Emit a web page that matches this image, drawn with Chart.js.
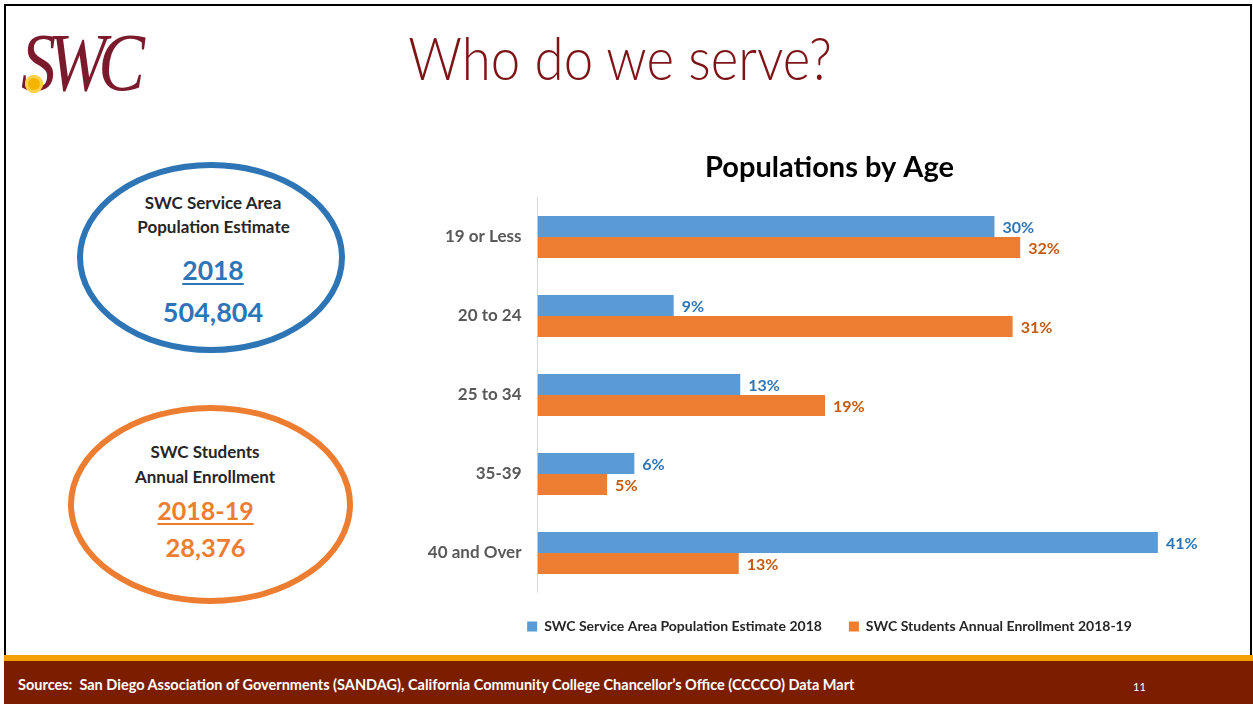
<!DOCTYPE html>
<html>
<head>
<meta charset="utf-8">
<script src="https://cdn.jsdelivr.net/npm/chart.js@4.4.1/dist/chart.umd.min.js"></script>
<style>
  html, body { margin:0; padding:0; width:1253px; height:704px; overflow:hidden; background:#fff; font-family: Lato, "Open Sans", sans-serif; }
  #frame { position:absolute; left:4px; top:4px; width:1248px; height:652px; border:2px solid #000; border-bottom:none; box-sizing:border-box; }
  #strip { position:absolute; left:4px; top:655px; width:1249px; height:6px; background:#F4A000; }
  #footer { position:absolute; left:4px; top:661px; width:1249px; height:43px; background:#7B1E00; }
  #sources { position:absolute; left:18px; top:684px; transform:translateY(-50%); color:#fff; font-weight:bold; font-size:14.5px; white-space:nowrap; }
  #pageno { position:absolute; left:1133px; top:680px; color:#fff; font-size:11px; }
  #title { position:absolute; left:620px; top:57px; transform:translate(-50%,-50%) scaleX(0.88); color:#7D1416; font-size:60px; font-weight:300; white-space:nowrap; }
  #logo { position:absolute; left:21px; top:16px; color:#7B1A2C; font-family:"Liberation Serif", "DejaVu Serif", serif; font-style:italic; font-size:70px; letter-spacing:-8px; transform:scaleY(1.18); transform-origin:left top; white-space:nowrap; }
  #sun { position:absolute; left:25px; top:75px; width:18px; height:18px; border-radius:50%; background:#F5B400; box-shadow:0 0 0 3px #FFD24A inset; }
  .ell { position:absolute; border-radius:50%; box-sizing:border-box; }
  #e1 { left:77px; top:162px; width:268px; height:191px; border:6px solid #2E75B6; }
  #e2 { left:68px; top:405px; width:285px; height:199px; border:6px solid #ED7D31; }
  .t { position:absolute; text-align:center; white-space:nowrap; font-weight:bold; transform:translate(-50%,-50%); }
  .lbl { color:#262626; font-size:17px; }
  .yr { text-decoration:underline; text-underline-offset:3px; text-decoration-thickness:2px; }
  .blue { color:#2E75B6; }
  .orange { color:#ED7D31; }
  #chartWrap { position:absolute; left:420px; top:140px; width:820px; height:520px; }
</style>
</head>
<body>
<div id="frame"></div>
<div id="logo">SWC</div>
<div id="sun"></div>
<div id="title">Who do we serve?</div>

<div id="e1" class="ell"></div>
<div class="t lbl" style="left:213px; top:202px;">SWC Service Area</div>
<div class="t lbl" style="left:213.5px; top:226px;">Population Estimate</div>
<div class="t yr blue" style="left:213px; top:270px; font-size:26.5px;">2018</div>
<div class="t blue" style="left:213px; top:310.5px; font-size:27px;">504,804</div>

<div id="e2" class="ell"></div>
<div class="t lbl" style="left:205px; top:451px;">SWC Students</div>
<div class="t lbl" style="left:205px; top:476px;">Annual Enrollment</div>
<div class="t yr orange" style="left:205.5px; top:510px; font-size:25px;">2018-19</div>
<div class="t orange" style="left:205.5px; top:547px; font-size:25.5px;">28,376</div>

<div id="chartWrap"><canvas id="c" width="820" height="520"></canvas></div>

<div id="strip"></div>
<div id="footer"></div>
<div id="sources">Sources:&nbsp; San Diego Association of Governments (SANDAG), California Community College Chancellor’s Office (CCCCO) Data Mart</div>
<div id="pageno">11</div>

<script>
// ---- Data ----
const categories = ["19 or Less", "20 to 24", "25 to 34", "35-39", "40 and Over"];
const seriesNames = ["SWC Service Area Population Estimate 2018", "SWC Students Annual Enrollment 2018-19"];
const populationEstimate2018 = [30.2, 9.0, 13.4, 6.4, 41.0];
const studentEnrollment2018_19 = [31.9, 31.4, 19.0, 4.6, 13.3];

const barColors = ["#5B9BD5", "#ED7D31"];
const labelColors = ["#2E75B6", "#C55A11"];
const FONT = "Lato, 'Open Sans', sans-serif";

const valueLabels = {
  id: 'valueLabels',
  afterDatasetsDraw(chart) {
    const ctx = chart.ctx;
    ctx.save();
    ctx.font = "bold 16px " + FONT;
    ctx.textBaseline = 'middle';
    ctx.textAlign = 'left';
    chart.data.datasets.forEach((ds, i) => {
      const meta = chart.getDatasetMeta(i);
      meta.data.forEach((bar, j) => {
        ctx.fillStyle = labelColors[i];
        ctx.fillText(Math.round(ds.data[j]) + '%', bar.x + 8, bar.y + 1);
      });
    });
    ctx.restore();
  }
};

new Chart(document.getElementById('c'), {
  type: 'bar',
  data: {
    labels: categories,
    datasets: [
      { label: seriesNames[0], data: populationEstimate2018, backgroundColor: barColors[0] },
      { label: seriesNames[1], data: studentEnrollment2018_19, backgroundColor: barColors[1] }
    ]
  },
  options: {
    indexAxis: 'y',
    responsive: false,
    animation: false,
    devicePixelRatio: 1,
    categoryPercentage: 0.53,
    barPercentage: 1.0,
    layout: { padding: { left: 0, right: 1, top: 0, bottom: 16.5 } },
    scales: {
      x: { display: false, min: 0, max: 46.36 },
      y: {
        grid: { display: false, drawTicks: false },
        border: { display: true, color: '#D9D9D9', width: 1 },
        ticks: { color: '#595959', padding: 16, font: { family: FONT, size: 17, weight: 'bold' } },
        afterFit(scale) { scale.width = 117.5; }
      }
    },
    plugins: {
      title: {
        display: true,
        text: 'Populations by Age',
        color: '#000',
        font: { family: FONT, size: 29, weight: 'bold' },
        padding: { top: 10.6, bottom: 12.1 }
      },
      legend: {
        display: true,
        position: 'bottom',
        labels: {
          boxWidth: 10, boxHeight: 10, padding: 27,
          color: '#262626',
          font: { family: FONT, size: 14, weight: 'bold' }
        }
      },
      tooltip: { enabled: false }
    }
  },
  plugins: [valueLabels]
});
</script>
</body>
</html>
